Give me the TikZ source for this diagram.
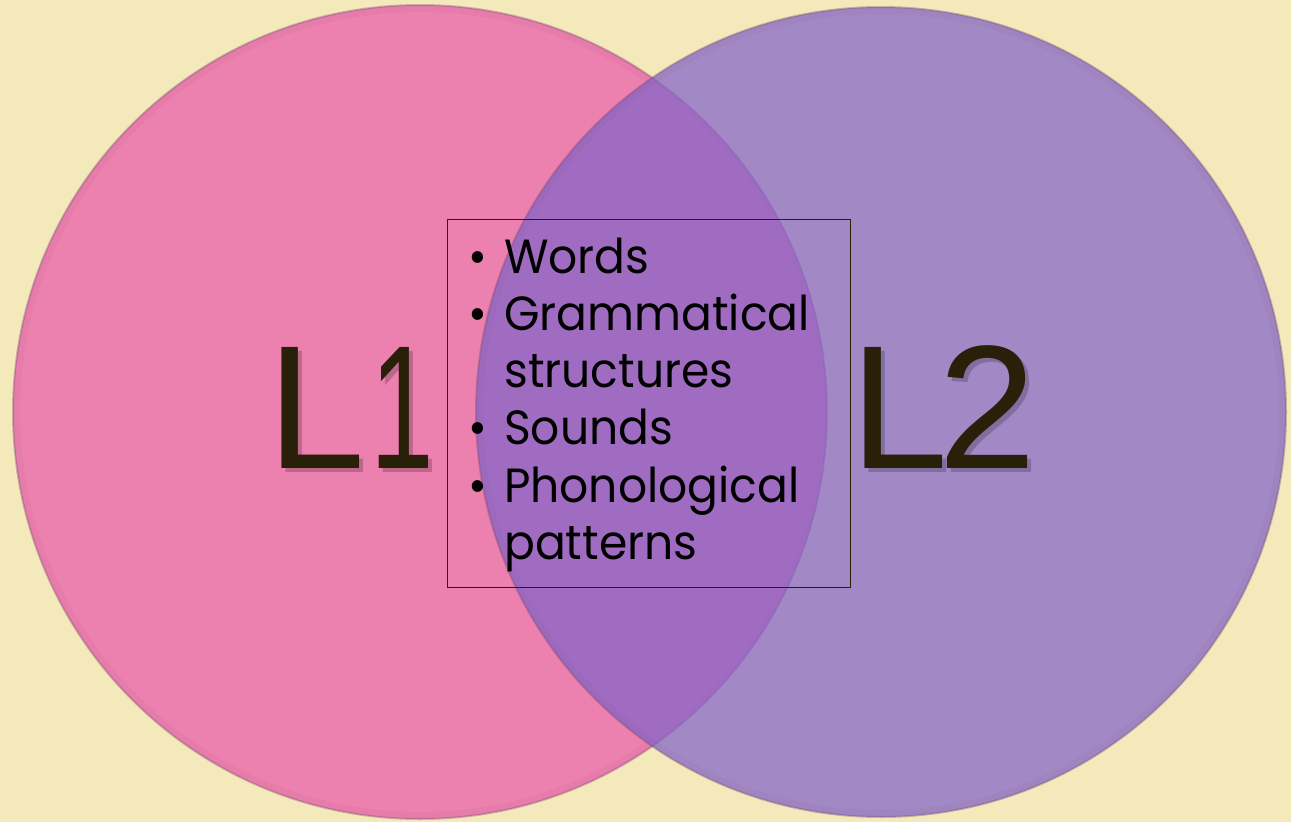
\documentclass[tikz,border=0pt]{standalone}
\usepackage{graphicx}
\usepackage{fontspec}
\setmainfont{Poppins}
\newfontfamily\itemf[FakeStretch=0.95]{Poppins}
\newfontfamily\arialf{Liberation Sans}
\definecolor{bg}{RGB}{243,233,186}
\definecolor{pinkc}{RGB}{236,128,174}
\definecolor{purp}{RGB}{132,101,203}
\definecolor{labc}{RGB}{40,32,8}
\definecolor{rimc}{RGB}{120,70,110}
\begin{document}
\begin{tikzpicture}[x=1pt,y=-1pt,
  venn/.style={circle, inner sep=0pt, draw=rimc, draw opacity=0.35, line width=2pt},
  bevel/.style={draw=rimc, line width=6pt, draw opacity=0.06},
  biglabel/.style={anchor=base west, text=labc, font=\arialf\fontsize{176}{176}\selectfont, inner sep=0pt},
  bigshadow/.style={anchor=base west, text=black, text opacity=0.2, font=\arialf\fontsize{176}{176}\selectfont, inner sep=0pt},
  item/.style={anchor=base west, inner sep=0pt, text=black, font=\itemf\fontsize{48}{57}\selectfont},
  bul/.style={anchor=base west, inner sep=0pt, text=black, font=\itemf\fontsize{48}{57}\selectfont}]
\useasboundingbox (0,0) rectangle (1291,822);
\fill[bg] (0,0) rectangle (1291,822);
\node[venn, fill=pinkc, minimum size=814pt] (c1) at (420,412) {};
\draw[bevel] (c1.center) circle (403pt);
\node[venn, fill=purp, fill opacity=0.72, minimum size=810pt] (c2) at (881,412) {};
\draw[bevel] (c2.center) circle (401pt);
\node[draw=labc, line width=1pt, minimum width=403pt, minimum height=368pt, anchor=north west, inner sep=0pt] (box) at (447,219) {};
\node[bigshadow] (s1) at (271,472) {L\kern5pt\scalebox{0.65}[1]{1}};
\node[biglabel] (l1) at (267,468) {L\kern5pt\scalebox{0.65}[1]{1}};
\node[bigshadow] (s2) at (854,472) {L\kern-10pt 2};
\node[biglabel] (l2) at (850,468) {L\kern-10pt 2};
\node[bul] (b1) at (468,273) {•};
\node[item] (t1) at (504,273) {Words};
\node[bul] (b2) at (468,330) {•};
\node[item] (t2) at (504,330) {Grammatical};
\node[item] (t3) at (504,387) {structures};
\node[bul] (b3) at (468,444) {•};
\node[item] (t4) at (504,444) {Sounds};
\node[bul] (b4) at (468,502) {•};
\node[item] (t5) at (504,502) {Phonological};
\node[item] (t6) at (504,559) {patterns};
\end{tikzpicture}
\end{document}
